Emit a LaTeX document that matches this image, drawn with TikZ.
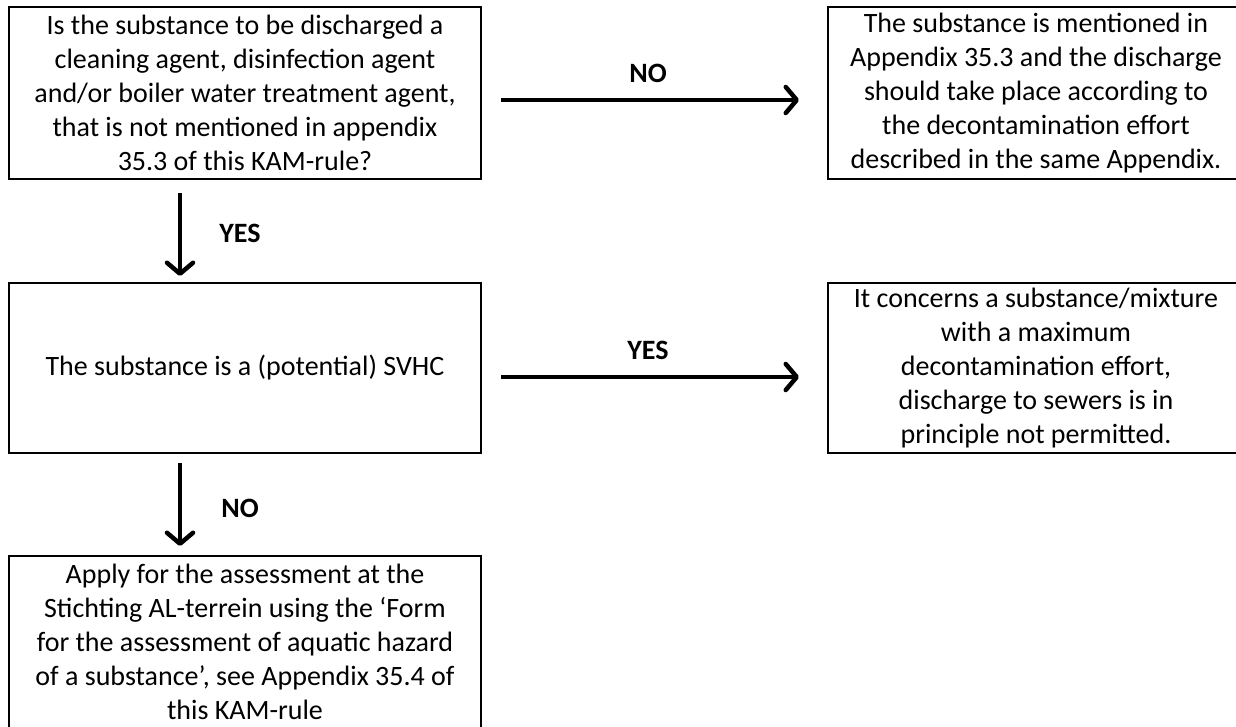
\documentclass[tikz,border=0pt]{standalone}
\usepackage{fontspec}
\setmainfont{Carlito}
\usetikzlibrary{arrows.meta}
\begin{document}
\begin{tikzpicture}[x=1pt,y=-1pt,
  box/.style={draw, line width=2pt, inner sep=0pt, align=center,
    font=\fontsize{28}{34}\selectfont},
  lbl/.style={inner sep=0pt, font=\fontsize{28}{34}\selectfont\bfseries},
  flow/.style={line width=4.5pt, -{Straight Barb[length=11pt,width=26pt,round]}}]
\useasboundingbox (0,0) rectangle (1236,726);
\fill[white] (0,0) rectangle (1236,726);

\node[box, minimum width=472pt, minimum height=172pt] (q1) at (245,93)
  {Is the substance to be discharged a\\cleaning agent, disinfection agent\\and/or boiler water treatment agent,\\that is not mentioned in appendix\\35.3 of this KAM-rule?};
\node[box, minimum width=416pt, minimum height=172pt] (r1) at (1036,93)
  {The substance is mentioned in\\Appendix 35.3 and the discharge\\should take place according to\\the decontamination effort\\described in the same Appendix.};
\node[box, minimum width=472pt, minimum height=170pt] (q2) at (245,368)
  {The substance is a (potential) SVHC};
\node[box, minimum width=416pt, minimum height=170pt] (r2) at (1036,368)
  {It concerns a substance/mixture\\with a maximum\\decontamination effort,\\discharge to sewers is in\\principle not permitted.};
\node[box, minimum width=472pt, minimum height=172pt] (q3) at (245,642)
  {Apply for the assessment at the\\Stichting AL-terrein using the `Form\\for the assessment of aquatic hazard\\of a substance', see Appendix 35.4 of\\this KAM-rule};

\draw[flow, shorten <=19pt, shorten >=28pt] ([yshift=-7pt]q1.east) -- ([yshift=-7pt]r1.west);
\draw[flow, shorten <=19pt, shorten >=28pt] ([yshift=-9pt]q2.east) -- ([yshift=-9pt]r2.west);
\draw[flow, shorten <=13pt, shorten >=6pt] ([xshift=-65pt]q1.south) -- ([xshift=-65pt]q2.north);
\draw[flow, shorten <=9pt, shorten >=9pt] ([xshift=-65pt]q2.south) -- ([xshift=-65pt]q3.north);

\node[lbl] (l1) at (648,73) {NO};
\node[lbl] (l2) at (240,233) {YES};
\node[lbl] (l3) at (648,350) {YES};
\node[lbl] (l4) at (240,508) {NO};
\end{tikzpicture}
\end{document}
